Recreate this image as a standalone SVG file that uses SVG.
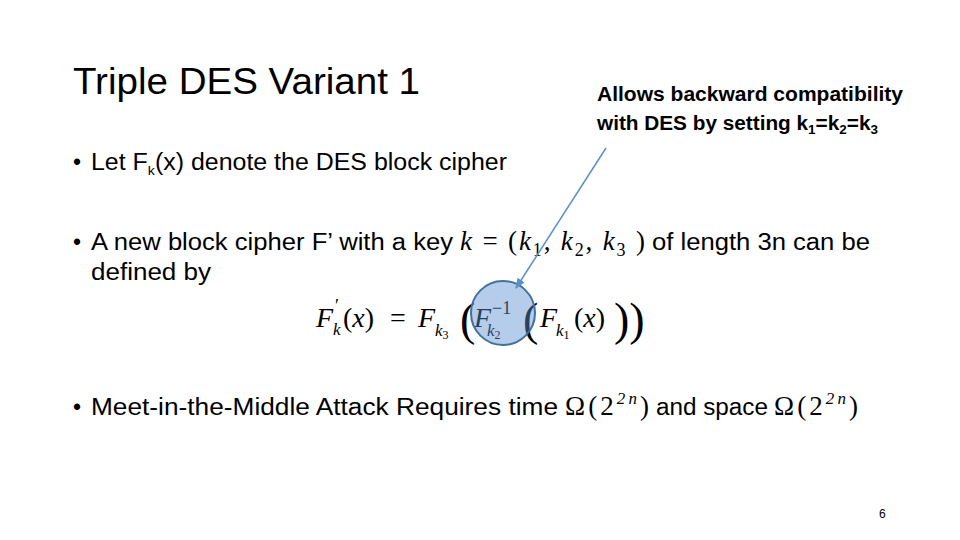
<svg xmlns="http://www.w3.org/2000/svg" width="960" height="540" viewBox="0 0 960 540">
<defs>
<style>
.t{font-family:"Liberation Sans",Arial,sans-serif;fill:#000}
.m{font-family:"Liberation Serif","DejaVu Serif",serif;fill:#000}
.b{font-size:23px}
</style>
<marker id="ah" viewBox="0 0 10 10" refX="9" refY="5" markerWidth="7" markerHeight="7" orient="auto"><path d="M0,1 L10,5 L0,9 z" fill="#5b8fc7"/></marker>
</defs>
<rect width="960" height="540" fill="#fff"/>
<g id="title"><text class="t" x="73" y="94" font-size="36" textLength="347" lengthAdjust="spacingAndGlyphs">Triple DES Variant 1</text></g>
<g id="bullets">
<text class="t b" x="73" y="170">•</text>
<text class="t b" x="91" y="170" textLength="416" lengthAdjust="spacingAndGlyphs">Let F<tspan font-size="13" dy="5">k</tspan><tspan dy="-5">(x) denote the DES block cipher</tspan></text>
<text class="t b" x="73" y="250">•</text>
<text class="t b" x="91" y="250" textLength="362" lengthAdjust="spacingAndGlyphs">A new block cipher F’ with a key</text>
<text class="m" x="460" y="250" font-size="27" textLength="185" lengthAdjust="spacing"><tspan font-style="italic">k</tspan> = (<tspan font-style="italic">k</tspan><tspan font-size="18" dy="6">1</tspan><tspan dy="-6">, </tspan><tspan font-style="italic">k</tspan><tspan font-size="18" dy="6">2</tspan><tspan dy="-6">, </tspan><tspan font-style="italic">k</tspan><tspan font-size="18" dy="6">3</tspan><tspan dy="-6"> )</tspan></text>
<text class="t b" x="652" y="250" textLength="218" lengthAdjust="spacingAndGlyphs">of length 3n can be</text>
<text class="t b" x="91" y="280" textLength="120" lengthAdjust="spacingAndGlyphs">defined by</text>
<text class="t b" x="73" y="415">•</text>
<text class="t b" x="91" y="415" textLength="467" lengthAdjust="spacingAndGlyphs">Meet-in-the-Middle Attack Requires time</text>
<text class="m" x="565" y="415" font-size="27" textLength="84" lengthAdjust="spacing">Ω(2<tspan font-size="17" dy="-11" font-style="italic">2n</tspan><tspan dy="11">)</tspan></text>
<text class="t b" x="656" y="415" textLength="112" lengthAdjust="spacingAndGlyphs">and space</text>
<text class="m" x="774" y="415" font-size="27" textLength="84" lengthAdjust="spacing">Ω(2<tspan font-size="17" dy="-11" font-style="italic">2n</tspan><tspan dy="11">)</tspan></text>
</g>
<g id="formula">
<text class="m" x="316" y="327" font-size="28" font-style="italic">F</text>
<text class="m" x="335" y="312" font-size="18">′</text>
<text class="m" x="333" y="335" font-size="17" font-style="italic">k</text>
<text class="m" x="343" y="327" font-size="28">(<tspan font-style="italic">x</tspan>)</text>
<text class="m" x="390" y="327" font-size="28">=</text>
<text class="m" x="418" y="327" font-size="28" font-style="italic">F</text>
<text class="m" x="435" y="336" font-size="17" font-style="italic">k<tspan font-size="12" font-style="normal" dy="3">3</tspan></text>
<text class="m" x="460" y="335" font-size="46">(</text>
<text class="m" x="474" y="327" font-size="28" font-style="italic">F</text>
<text class="m" x="492" y="314" font-size="18">−1</text>
<text class="m" x="487" y="336" font-size="17" font-style="italic">k<tspan font-size="12" font-style="normal" dy="3">2</tspan></text>
<text class="m" x="523" y="335" font-size="46">(</text>
<text class="m" x="540" y="327" font-size="28" font-style="italic">F</text>
<text class="m" x="556" y="336" font-size="17" font-style="italic">k<tspan font-size="12" font-style="normal" dy="3">1</tspan></text>
<text class="m" x="574" y="327" font-size="28">(<tspan font-style="italic">x</tspan>)</text>
<text class="m" x="614" y="335" font-size="46">))</text>
</g>
<g id="highlight"><circle cx="503" cy="313" r="32" fill="#5b8fd0" fill-opacity="0.45" stroke="#41719c" stroke-width="2"/></g>
<g id="callout">
<text class="t" x="597" y="101" font-size="20" font-weight="bold" textLength="306" lengthAdjust="spacingAndGlyphs">Allows backward compatibility</text>
<text class="t" x="597" y="130" font-size="20" font-weight="bold" textLength="281" lengthAdjust="spacingAndGlyphs">with DES by setting k<tspan font-size="13" dy="4">1</tspan><tspan dy="-4">=k</tspan><tspan font-size="13" dy="4">2</tspan><tspan dy="-4">=k</tspan><tspan font-size="13" dy="4">3</tspan></text>
</g>
<g id="connectors"><line x1="606" y1="148" x2="516" y2="288" stroke="#5b8fc7" stroke-width="1.5" marker-end="url(#ah)"/></g>
<g id="page"><text class="t" x="879" y="518" font-size="12" fill="#7f7f7f">6</text></g>
</svg>
